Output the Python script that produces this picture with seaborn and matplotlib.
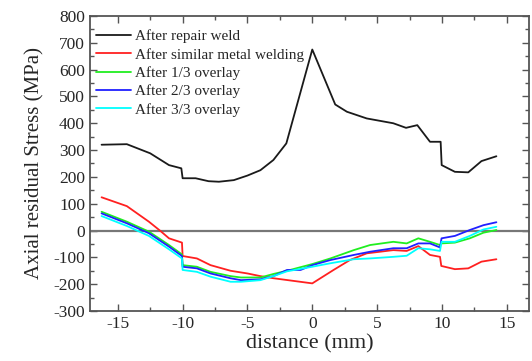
import matplotlib
matplotlib.use("Agg")
import matplotlib.pyplot as plt
import seaborn as sns
import pandas as pd
from matplotlib.ticker import MultipleLocator

# Axial residual stress (MPa) along the weld, distance in mm
x_repair = [-16.25, -14.3, -12.5, -11.05, -10.1, -10.0, -9.0, -8.0, -7.2, -6.05, -5.0, -4.0, -3.0,
            -2.0, 0.0, 1.77, 2.67, 4.2, 6.25, 7.23, 8.1, 9.08, 9.9, 9.98, 11.0, 12.03, 13.05, 14.2]
y_repair = [320, 322, 288, 244, 232, 195, 195, 184, 182, 188, 205, 225, 263,
            325, 675, 470, 443, 418, 400, 383, 393, 331, 331, 244, 219, 217, 259, 277]

x_similar = [-16.25, -14.3, -12.6, -11.7, -11.05, -10.05, -10.0, -8.9, -7.85, -6.3, -5.0, -4.0,
             -2.97, 0.0, 1.64, 2.9, 4.2, 6.25, 7.28, 8.18, 9.08, 9.85, 9.95, 11.0, 12.03, 13.05, 14.2]
y_similar = [124, 91, 33, -2, -29, -45, -95, -104, -129, -150, -160, -170,
             -178, -197, -147, -110, -85, -73, -76, -58, -91, -98, -132, -144, -141, -116, -107]

x_overlay1 = [-16.25, -14.3, -12.6, -11.05, -10.05, -10.0, -8.9, -7.85, -6.3, -5.5, -4.0, -3.0,
              -1.95, 0.0, 1.4, 3.2, 4.46, 6.25, 7.28, 8.18, 9.08, 9.85, 9.95, 11.0, 12.15, 13.2, 14.2]
y_overlay1 = [70, 33, -4, -54, -89, -129, -135, -154, -170, -175, -175, -162,
              -150, -125, -104, -73, -54, -42, -48, -29, -42, -54, -48, -45, -29, -8, 2]

x_overlay2 = [-16.25, -14.3, -12.6, -11.05, -10.05, -10.0, -8.9, -7.85, -6.3, -5.5, -4.0, -3.0,
              -1.95, -0.9, 0.0, 1.4, 3.2, 4.46, 6.25, 7.28, 8.18, 9.08, 9.85, 9.97, 11.0, 12.15, 13.2, 14.2]
y_overlay2 = [64, 27, -10, -60, -95, -135, -141, -160, -178, -185, -182, -170,
              -147, -147, -129, -110, -91, -79, -66, -66, -48, -48, -63, -29, -20, 2, 20, 31]

x_overlay3 = [-16.25, -14.3, -12.6, -11.05, -10.05, -10.0, -8.9, -7.85, -6.3, -5.5, -4.0, -3.0,
              -1.95, 0.0, 1.4, 3.2, 4.46, 6.25, 7.28, 8.18, 9.08, 9.85, 9.97, 11.0, 12.15, 13.2, 14.2]
y_overlay3 = [54, 17, -20, -70, -104, -147, -154, -172, -191, -191, -185, -170,
              -152, -135, -122, -107, -104, -98, -94, -66, -70, -76, -42, -42, -20, 4, 14]

series_names = ["After repair weld", "After similar metal welding", "After 1/3 overlay",
                "After 2/3 overlay", "After 3/3 overlay"]
series_colors = ["#1a1a1a", "#ff2020", "#20ee20", "#2020ff", "#00ffff"]

frames = []
for name, xs, ys in zip(series_names,
                        [x_repair, x_similar, x_overlay1, x_overlay2, x_overlay3],
                        [y_repair, y_similar, y_overlay1, y_overlay2, y_overlay3]):
    frames.append(pd.DataFrame({"distance": xs, "stress": ys, "state": name}))
df = pd.concat(frames, ignore_index=True)

sns.set_style("ticks")
plt.rcParams["font.family"] = ["Liberation Serif", "DejaVu Serif"]
plt.rcParams["axes.edgecolor"] = "#555555"
plt.rcParams["axes.unicode_minus"] = False

fig = plt.figure(figsize=(5.32, 3.61), dpi=100)
ax = fig.add_axes([0.169, 0.1385, 0.825, 0.8172])

ax.axhline(0, color="#777777", lw=1.6, zorder=1)

sns.lineplot(data=df, x="distance", y="stress", hue="state", hue_order=series_names,
             palette=series_colors, estimator=None, sort=False, lw=1.3, ax=ax, zorder=3)

ax.set_xlim(-17.15, 16.7)
ax.set_ylim(-300, 800)
ax.xaxis.set_major_locator(MultipleLocator(5))
ax.xaxis.set_minor_locator(MultipleLocator(2.5))
ax.yaxis.set_major_locator(MultipleLocator(100))
ax.yaxis.set_minor_locator(MultipleLocator(50))
ax.tick_params(which="both", direction="in", top=True, right=True, color="#555555",
               labelsize=12.5, width=1.0)
ax.tick_params(which="major", length=5)
ax.tick_params(which="minor", length=3)
for s in ax.spines.values():
    s.set_linewidth(1.3)

ax.set_xlabel("distance (mm)", fontsize=16, labelpad=2)
ax.set_ylabel("Axial residual Stress (MPa)", fontsize=15, labelpad=6)

handles, labels = ax.get_legend_handles_labels()
ax.legend(handles, labels, loc="upper left", frameon=False, fontsize=11,
          handlelength=2.3, handletextpad=0.25, labelspacing=0.3,
          borderaxespad=0.0, bbox_to_anchor=(0.0, 0.975))

fig.savefig("out.png", dpi=100)
